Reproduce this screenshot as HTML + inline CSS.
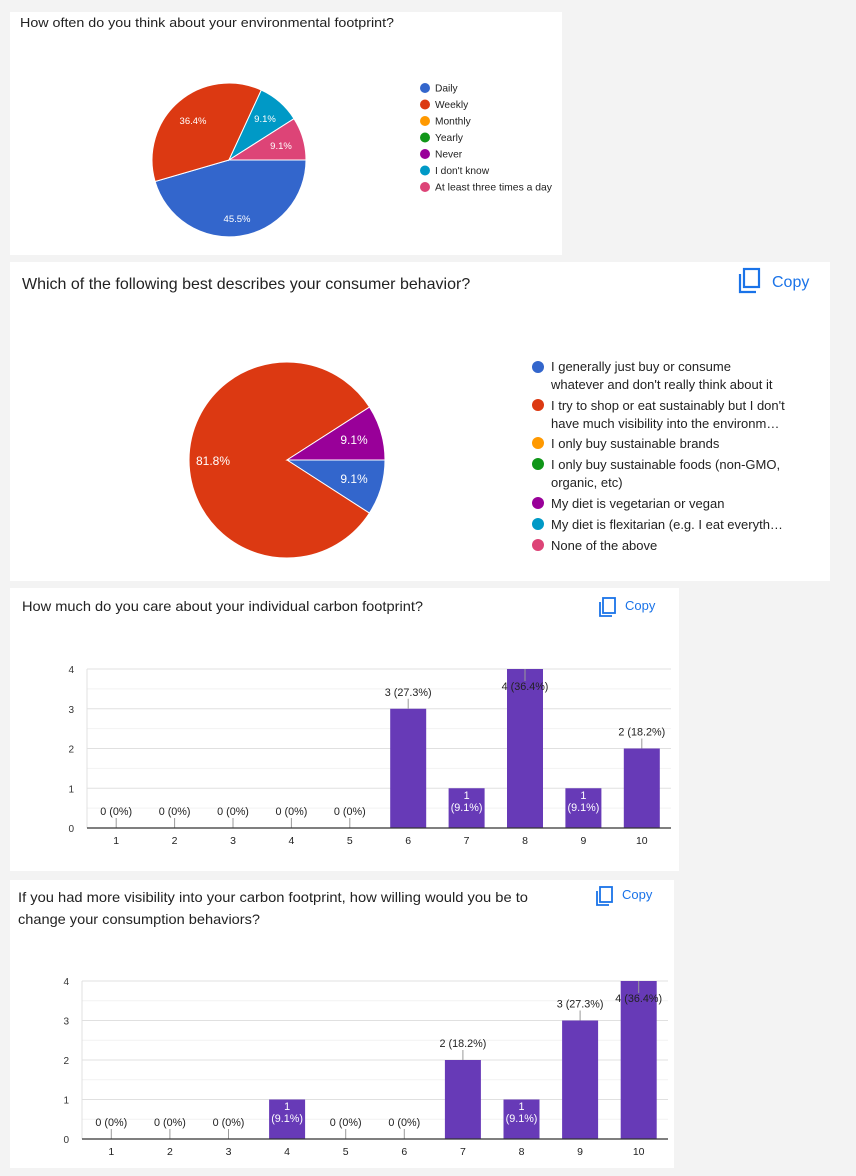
<!DOCTYPE html>
<html><head><meta charset="utf-8"><style>
html,body{margin:0;padding:0;background:#f3f3f3;}
svg{display:block;font-family:"Liberation Sans",Arial,sans-serif;}
</style></head><body>
<svg width="856" height="1176" viewBox="0 0 856 1176" xmlns="http://www.w3.org/2000/svg">
<rect width="856" height="1176" fill="#f3f3f3"/>
<rect x="10" y="12" width="552" height="243" fill="#fff"/>
<rect x="10" y="262" width="820" height="319" fill="#fff"/>
<rect x="10" y="588" width="669" height="283" fill="#fff"/>
<rect x="10" y="880" width="664" height="288" fill="#fff"/>

<!-- Panel 1 -->
<text x="20" y="27" font-size="13" fill="#222" textLength="374" lengthAdjust="spacingAndGlyphs">How often do you think about your environmental footprint?</text>
<g stroke="#fff" stroke-width="1">
<path d="M229,160 L306,160 A77,77 0 0 1 155.1,181.5 Z" fill="#3366cc"/>
<path d="M229,160 L155.1,181.5 A77,77 0 0 1 261.3,90.1 Z" fill="#dc3912"/>
<path d="M229,160 L261.3,90.1 A77,77 0 0 1 294,118.7 Z" fill="#0099c6"/>
<path d="M229,160 L294,118.7 A77,77 0 0 1 306,160 Z" fill="#dd4477"/>
</g>
<g font-size="9.5" fill="#fff" text-anchor="middle">
<text x="193" y="124">36.4%</text><text x="265" y="122">9.1%</text>
<text x="281" y="149">9.1%</text><text x="237" y="222">45.5%</text>
</g>
<g font-size="10.2" fill="#222">
<circle cx="425" cy="88" r="5" fill="#3366cc"/><text x="435" y="91.5">Daily</text>
<circle cx="425" cy="104.5" r="5" fill="#dc3912"/><text x="435" y="108">Weekly</text>
<circle cx="425" cy="121" r="5" fill="#ff9900"/><text x="435" y="124.5">Monthly</text>
<circle cx="425" cy="137.5" r="5" fill="#109618"/><text x="435" y="141">Yearly</text>
<circle cx="425" cy="154" r="5" fill="#990099"/><text x="435" y="157.5">Never</text>
<circle cx="425" cy="170.5" r="5" fill="#0099c6"/><text x="435" y="174">I don't know</text>
<circle cx="425" cy="187" r="5" fill="#dd4477"/><text x="435" y="190.5" textLength="117" lengthAdjust="spacingAndGlyphs">At least three times a day</text>
</g>

<!-- Panel 2 -->
<text x="22" y="289" font-size="16" fill="#222">Which of the following best describes your consumer behavior?</text>
<g fill="none" stroke="#1a73e8" stroke-width="2.2">
<rect x="744" y="269" width="15" height="18"/><path d="M740,274 V292 H756"/>
</g>
<text x="772" y="287" font-size="16" fill="#1a73e8">Copy</text>
<g stroke="#fff" stroke-width="1">
<path d="M287,460 L385,460 A98,98 0 0 1 369.4,513.1 Z" fill="#3366cc"/>
<path d="M287,460 L369.4,513.1 A98,98 0 1 1 369.5,407.1 Z" fill="#dc3912"/>
<path d="M287,460 L369.5,407.1 A98,98 0 0 1 385,460 Z" fill="#990099"/>
</g>
<g font-size="12" fill="#fff" text-anchor="middle">
<text x="213" y="465">81.8%</text><text x="354" y="444">9.1%</text><text x="354" y="483">9.1%</text>
</g>
<g font-size="13" fill="#222">
<circle cx="538" cy="367" r="6" fill="#3366cc"/><text x="551" y="371">I generally just buy or consume</text><text x="551" y="389">whatever and don't really think about it</text>
<circle cx="538" cy="405" r="6" fill="#dc3912"/><text x="551" y="410">I try to shop or eat sustainably but I don't</text><text x="551" y="428">have much visibility into the environm…</text>
<circle cx="538" cy="443" r="6" fill="#ff9900"/><text x="551" y="448">I only buy sustainable brands</text>
<circle cx="538" cy="464" r="6" fill="#109618"/><text x="551" y="469">I only buy sustainable foods (non-GMO,</text><text x="551" y="487">organic, etc)</text>
<circle cx="538" cy="503" r="6" fill="#990099"/><text x="551" y="508">My diet is vegetarian or vegan</text>
<circle cx="538" cy="524" r="6" fill="#0099c6"/><text x="551" y="529">My diet is flexitarian (e.g. I eat everyth…</text>
<circle cx="538" cy="545" r="6" fill="#dd4477"/><text x="551" y="550">None of the above</text>
</g>

<!-- Panel 3 -->
<text x="22" y="611" font-size="14" fill="#222" textLength="401" lengthAdjust="spacingAndGlyphs">How much do you care about your individual carbon footprint?</text>
<g fill="none" stroke="#1a73e8" stroke-width="1.8">
<rect x="603" y="598" width="12" height="15"/><path d="M600,602 V616 H612"/>
</g>
<text x="625" y="610" font-size="13" fill="#1a73e8">Copy</text>
<g id="c3"></g>

<!-- Panel 4 -->
<text x="18" y="902" font-size="14" fill="#222" textLength="510" lengthAdjust="spacingAndGlyphs">If you had more visibility into your carbon footprint, how willing would you be to</text>
<text x="18" y="924" font-size="14" fill="#222" textLength="242" lengthAdjust="spacingAndGlyphs">change your consumption behaviors?</text>
<g fill="none" stroke="#1a73e8" stroke-width="1.8">
<rect x="600" y="887" width="12" height="15"/><path d="M597,891 V905 H609"/>
</g>
<text x="622" y="899" font-size="13" fill="#1a73e8">Copy</text>
<g id="c4"></g>
</svg>
<script>
function chart(id,left,right,y0,y4,vals){
  var g=document.getElementById(id),u=(y0-y4)/4,w=(right-left)/10,h="";
  for(var k=0;k<=8;k++){var y=y0-k*u/2;
    h+='<line x1="'+left+'" x2="'+right+'" y1="'+y+'" y2="'+y+'" stroke="'+(k%2?'#f2f2f2':'#e0e0e0')+'" stroke-width="1"/>';
    if(k%2==0)h+='<text x="'+(left-13)+'" y="'+(y+4)+'" font-size="10" fill="#333" text-anchor="end">'+(k/2)+'</text>';}
  h+='<line x1="'+left+'" x2="'+left+'" y1="'+y4+'" y2="'+y0+'" stroke="#e0e0e0"/>';
  var tot=11,fs=10.8;
  for(var i=0;i<10;i++){var cx=left+(i+0.5)*w,v=vals[i],pct=(Math.round(v/tot*1000)/10)+'%';
    if(v==0)pct='0%';
    h+='<text x="'+cx+'" y="'+(y0+16)+'" font-size="10.5" fill="#222" text-anchor="middle">'+(i+1)+'</text>';
    if(v>0){var top=y0-v*u;h+='<rect x="'+(cx-18)+'" y="'+top+'" width="36" height="'+(v*u)+'" fill="#673ab7"/>';}
    if(v==0){h+='<line x1="'+cx+'" x2="'+cx+'" y1="'+(y0-10)+'" y2="'+y0+'" stroke="#999"/><text x="'+cx+'" y="'+(y0-13)+'" font-size="'+fs+'" fill="#222" text-anchor="middle">0 (0%)</text>';}
    else if(v==1){h+='<text x="'+cx+'" y="'+(y0-29)+'" font-size="'+fs+'" fill="#fff" text-anchor="middle">1</text><text x="'+cx+'" y="'+(y0-17)+'" font-size="'+fs+'" fill="#fff" text-anchor="middle">(9.1%)</text>';}
    else if(v==4){h+='<line x1="'+cx+'" x2="'+cx+'" y1="'+y4+'" y2="'+(y4+12)+'" stroke="#999"/><text x="'+cx+'" y="'+(y4+21)+'" font-size="'+fs+'" fill="#222" text-anchor="middle">4 (36.4%)</text>';}
    else {var t=y0-v*u;h+='<line x1="'+cx+'" x2="'+cx+'" y1="'+(t-10)+'" y2="'+t+'" stroke="#999"/><text x="'+cx+'" y="'+(t-13)+'" font-size="'+fs+'" fill="#222" text-anchor="middle">'+v+' ('+pct+')</text>';}
  }
  h+='<line x1="'+left+'" x2="'+right+'" y1="'+y0+'" y2="'+y0+'" stroke="#333" stroke-width="1.2"/>';
  g.innerHTML=h;
}
chart("c3",87,671,828,669,[0,0,0,0,0,3,1,4,1,2]);
chart("c4",82,668,1139,981,[0,0,0,1,0,0,2,1,3,4]);
</script>
</body></html>
